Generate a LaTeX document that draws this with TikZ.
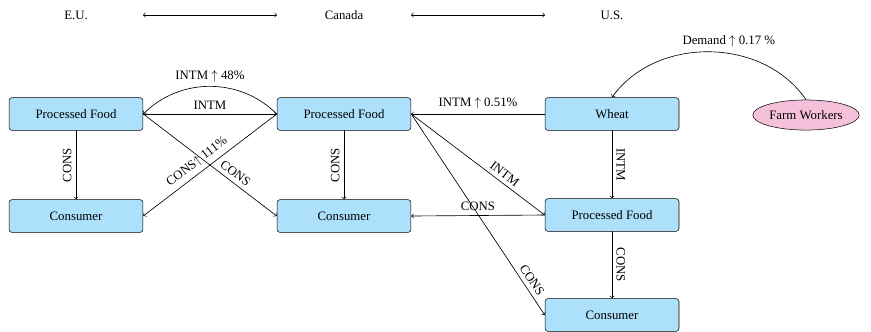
\documentclass[tikz,border=0pt]{standalone}
\usepackage{fontspec}
\setmainfont{Liberation Serif}
\usetikzlibrary{shapes.geometric}
\definecolor{boxblue}{RGB}{173,224,250}
\definecolor{farmpink}{RGB}{245,193,218}
\tikzset{
  box/.style={draw, rounded corners=2.5pt, fill=boxblue, minimum width=104.5pt, minimum height=25.7pt, inner sep=0pt},
  worker/.style={draw, ellipse, fill=farmpink, minimum width=83pt, minimum height=23.5pt, inner sep=0pt},
  flow/.style={->, line width=0.5pt}
}
\begin{document}
\begin{tikzpicture}[x=0.78pt,y=-0.78pt, line cap=round, line join=round]
\useasboundingbox (0,0) rectangle (871,331);
% countries
\node (eu) at (76,15) {E.U.};
\node (ca) at (344,15) {Canada};
\node (us) at (612,15) {U.S.};
\draw[<->, line width=0.5pt] (143,15) -- (277,15);
\draw[<->, line width=0.5pt] (411,15) -- (545,15);
% sectors
\node[box] (euFood) at (76,114) {Processed Food};
\node[box] (euCons) at (76,216) {Consumer};
\node[box] (caFood) at (344,114) {Processed Food};
\node[box] (caCons) at (344,216) {Consumer};
\node[box] (wheat) at (612,114) {Wheat};
\node[box] (usFood) at (612,215) {Processed Food};
\node[box] (usCons) at (612,315) {Consumer};
\node[worker] (farm) at (806,115) {Farm Workers};
% flows
\draw[flow] (farm.north) to[bend right=55] node[above, xshift=15pt] {Demand $\uparrow$ 0.17 \%} (wheat.north);
\draw[flow] (euFood.east) -- node[above] {INTM} (caFood.west);
\draw[flow] (caFood.west) to[bend right=45] node[above] {INTM $\uparrow$ 48\%} (euFood.east);
\draw[flow] (euFood.south) -- node[rotate=90, anchor=south] {CONS} (euCons.north);
\draw[flow] (caFood.south) -- node[rotate=90, anchor=south] {CONS} (caCons.north);
\draw[flow] (euFood.east) -- node[pos=0.65, sloped, above] {CONS} (caCons.west);
\draw[flow] (caFood.west) -- node[pos=0.55, sloped, above] {CONS$\uparrow$ 111\%} (euCons.east);
\draw[flow] (wheat.west) -- node[above] {INTM $\uparrow$ 0.51\%} (caFood.east);
\draw[flow] (caFood.east) -- node[pos=0.66, sloped, above] {INTM} (usFood.west);
\draw[flow] (usFood.west) -- node[above] {CONS} (caCons.east);
\draw[flow] (caFood.east) -- node[pos=0.85, sloped, above] {CONS} (usCons.west);
\draw[flow] (wheat.south) -- node[rotate=-90, anchor=south] {INTM} (usFood.north);
\draw[flow] (usFood.south) -- node[rotate=-90, anchor=south] {CONS} (usCons.north);
\end{tikzpicture}
\end{document}
